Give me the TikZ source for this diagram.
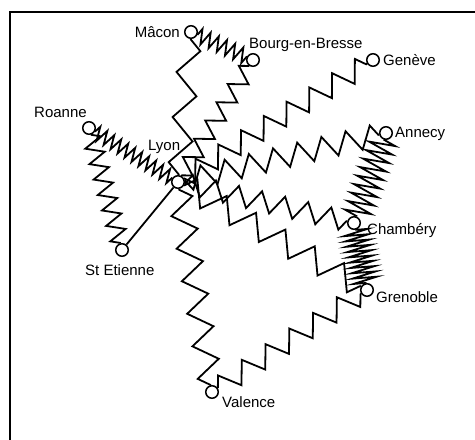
\documentclass[tikz,border=0pt]{standalone}
\usepackage{fontspec}
\setmainfont{Liberation Sans}
\usetikzlibrary{decorations.pathmorphing}

\begin{document}
\begin{tikzpicture}[x=1pt, y=-1pt,
  city/.style={circle, draw, line width=1.5pt, fill=white, minimum size=12.5pt, inner sep=0pt},
  spring/.style 2 args={line width=1.8pt, decorate, decoration={zigzag, segment length=#1, amplitude=#2}},
  cityname/.style={inner sep=0pt, font=\fontsize{15}{18}\selectfont}]
\useasboundingbox (0,0) rectangle (475,440);
\draw[line width=1.6pt] (475,12) -- (10,12) -- (10,440);
\foreach \n/\x/\y in {macon/191/32, bourg/253/60, geneve/373/60, roanne/89/128,
  lyon/178/182, stetienne/122/250, annecy/386/133, chambery/354/223,
  grenoble/367/290, valence/212/392} {
  \node[city] (\n) at (\x,\y) {};
}
\foreach \a/\b/\s/\w in {macon/bourg/8.97/7.5, macon/lyon/45.3/11, bourg/lyon/21.4/-9,
  lyon/geneve/26.87/-10.5, lyon/annecy/24.85/-11, annecy/chambery/9.02/13,
  lyon/chambery/23.7/10, chambery/grenoble/5.41/12, lyon/grenoble/33.8/12,
  valence/grenoble/28.46/10.5, valence/lyon/32.97/12, roanne/lyon/8.16/7,
  roanne/stetienne/16.0/9} {
  \draw[spring={\s pt}{\w pt}] (\a) -- (\b);
}
\draw[line width=1.8pt] (stetienne) -- (lyon);
\node[cityname, anchor=base east] (macon-l) at (180,37.5) {Mâcon};
\node[cityname, anchor=base west] (bourg-l) at (249,48) {Bourg-en-Bresse};
\node[cityname, anchor=base west] (geneve-l) at (383,65) {Genève};
\node[cityname, anchor=base west] (roanne-l) at (34,117) {Roanne};
\node[cityname, anchor=base west] (lyon-l) at (148,150) {Lyon};
\node[cityname, anchor=base west] (stetienne-l) at (85,275) {St Etienne};
\node[cityname, anchor=base west] (annecy-l) at (395,137) {Annecy};
\node[cityname, anchor=base west] (chambery-l) at (367,234) {Chambéry};
\node[cityname, anchor=base west] (grenoble-l) at (376,302) {Grenoble};
\node[cityname, anchor=base west] (valence-l) at (222,407) {Valence};
\end{tikzpicture}
\end{document}
